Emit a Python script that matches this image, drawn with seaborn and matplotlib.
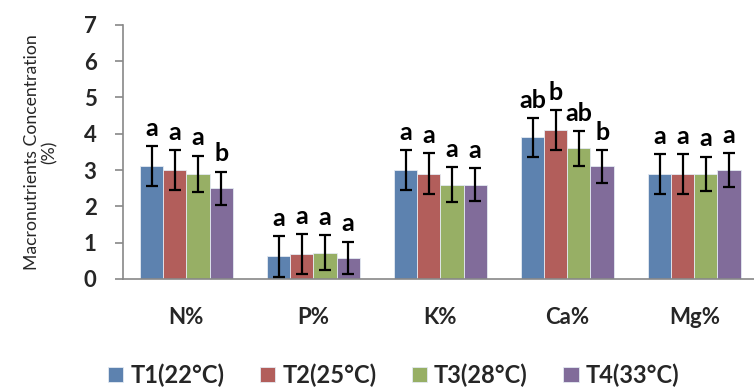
import matplotlib
matplotlib.use('Agg')
import matplotlib.pyplot as plt
import seaborn as sns
import pandas as pd
import numpy as np

# Values
nutrients = ['N%', 'P%', 'K%', 'Ca%', 'Mg%']
treatments = ['T1(22°C)', 'T2(25°C)', 'T3(28°C)', 'T4(33°C)']

t1_mean = [3.1, 0.62, 3.0, 3.9, 2.9]
t2_mean = [3.0, 0.68, 2.9, 4.1, 2.9]
t3_mean = [2.9, 0.72, 2.6, 3.6, 2.9]
t4_mean = [2.5, 0.58, 2.6, 3.1, 3.0]

t1_err = [0.55, 0.57, 0.55, 0.54, 0.55]
t2_err = [0.55, 0.55, 0.56, 0.55, 0.55]
t3_err = [0.50, 0.48, 0.48, 0.48, 0.47]
t4_err = [0.46, 0.45, 0.45, 0.45, 0.46]

t1_letters = ['a', 'a', 'a', 'ab', 'a']
t2_letters = ['a', 'a', 'a', 'b', 'a']
t3_letters = ['a', 'a', 'a', 'ab', 'a']
t4_letters = ['b', 'a', 'a', 'b', 'a']

colors = ['#4F81BD', '#C0504D', '#9BBB59', '#8064A2']

means = [t1_mean, t2_mean, t3_mean, t4_mean]
errs = [t1_err, t2_err, t3_err, t4_err]
letters = [t1_letters, t2_letters, t3_letters, t4_letters]

rows = []
for t, m, e, l in zip(treatments, means, errs, letters):
    for n, mv, ev, lv in zip(nutrients, m, e, l):
        rows.append({'Nutrient': n, 'Treatment': t, 'Value': mv, 'Err': ev, 'Letter': lv})
df = pd.DataFrame(rows)

sns.set_style('white')
plt.rcParams['font.family'] = ['Lato', 'DejaVu Sans']

fig = plt.figure(figsize=(7.54, 3.89), dpi=100)
ax = fig.add_axes([0.163, 0.283, 0.842, 0.653])

sns.barplot(data=df, x='Nutrient', y='Value', hue='Treatment', palette=colors,
            width=0.73, errorbar=None, edgecolor='#e4eaf2', linewidth=0.6, ax=ax)

# error bars and significance letters on top of each bar
for container, t in zip(ax.containers, treatments):
    sub = df[df['Treatment'] == t]
    for bar, (_, r) in zip(container, sub.iterrows()):
        x = bar.get_x() + bar.get_width() / 2
        y = bar.get_height()
        ax.errorbar(x, y, yerr=r['Err'], fmt='none', ecolor='black',
                    elinewidth=1.6, capsize=4.5, capthick=1.6, zorder=5)
        ax.text(x, y + r['Err'] + 0.17, r['Letter'], ha='center', va='bottom',
                fontsize=18, fontweight='bold', color='black')

ax.set_ylim(0, 7)
ax.set_xlim(-0.5, 4.5)
ax.set_yticks(range(0, 8))
ax.set_xlabel('')
ax.set_ylabel('Macronutrients Concentration\n(%)', fontsize=12.7, linespacing=1.1)
ax.yaxis.set_label_coords(-0.103, 0.5)

ax.set_xticks(np.arange(-0.5, 5.0, 1.0), minor=True)
ax.tick_params(axis='x', which='major', length=0, labelsize=16, pad=20)
ax.tick_params(axis='x', which='minor', length=6, color='#888888', width=1.2)
ax.tick_params(axis='y', which='major', length=6, color='#888888', width=1.2,
               labelsize=16, pad=13, left=True)
for lab in ax.get_xticklabels() + ax.get_yticklabels():
    lab.set_fontweight('bold')

sns.despine(ax=ax)
ax.spines['left'].set_color('#888888')
ax.spines['bottom'].set_color('#888888')
ax.spines['left'].set_linewidth(1.2)
ax.spines['bottom'].set_linewidth(1.2)

handles, labels = ax.get_legend_handles_labels()
ax.get_legend().remove()
fig.legend(handles, labels, loc='center', bbox_to_anchor=(0.522, 0.036), ncol=4,
           frameon=False, handlelength=0.65, handleheight=0.65, handletextpad=0.3,
           columnspacing=1.5, prop={'size': 17, 'weight': 'bold'})

fig.savefig('out.png', dpi=100)
